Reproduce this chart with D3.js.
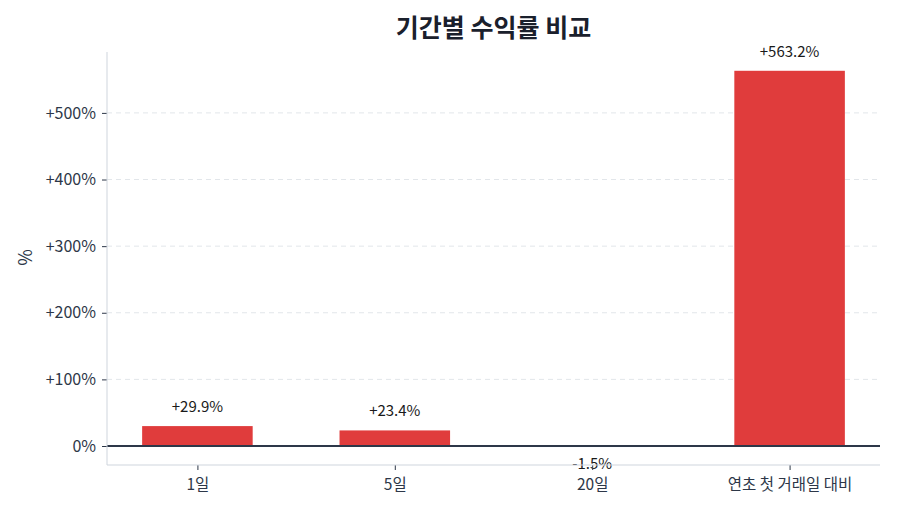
<!DOCTYPE html>
<html>
<head>
<meta charset="utf-8">
<script src="https://cdn.jsdelivr.net/npm/d3@7"></script>
<style>
  body { margin: 0; background: #fff; }
  text { font-family: "Noto Sans CJK KR", "Noto Sans", sans-serif; }
</style>
</head>
<body>
<script>
const categories = ["1일", "5일", "20일", "연초 첫 거래일 대비"];
const returns = [29.9, 23.4, -1.5, 563.2];
const yTicks = [0, 100, 200, 300, 400, 500];

const W = 900, H = 514;
const mLeft = 107, mRight = 880, mTop = 52, mBottom = 465;

const svg = d3.select("body").append("svg")
    .attr("width", W)
    .attr("height", H);

const x = d3.scaleLinear([-0.458, categories.length - 1 + 0.458], [mLeft, mRight]);
const y = d3.scaleLinear([-28.5, 591.4], [mBottom, mTop]);
const barW = 0.56;

// grid
svg.append("g")
    .selectAll("line")
    .data(yTicks.filter(t => t !== 0))
    .enter()
    .append("line")
    .attr("x1", mLeft)
    .attr("x2", mRight)
    .attr("y1", d => y(d))
    .attr("y2", d => y(d))
    .attr("stroke", "#e2e6ea")
    .attr("stroke-dasharray", "5,4")
    .attr("stroke-width", 1);

// bars
svg.append("g")
    .selectAll("rect")
    .data(returns)
    .enter()
    .append("rect")
    .attr("x", (d, i) => x(i - barW / 2))
    .attr("width", (d, i) => x(i + barW / 2) - x(i - barW / 2))
    .attr("y", d => y(Math.max(0, d)))
    .attr("height", d => Math.abs(y(d) - y(0)))
    .attr("fill", d => d >= 0 ? "#e03c3c" : "#3b6fd6");

// zero line
svg.append("line")
    .attr("x1", mLeft)
    .attr("x2", mRight)
    .attr("y1", y(0))
    .attr("y2", y(0))
    .attr("stroke", "#2d3748")
    .attr("stroke-width", 2.2);

// value labels
svg.append("g")
    .selectAll("text")
    .data(returns)
    .enter()
    .append("text")
    .attr("x", (d, i) => x(i))
    .attr("y", d => d >= 0 ? y(d) - 14 : y(d) + 22)
    .attr("text-anchor", "middle")
    .attr("font-size", 15)
    .attr("fill", "#1a1a1a")
    .text(d => (d >= 0 ? "+" : "") + d.toFixed(1) + "%");

// axes
let yAxis = d3.axisLeft(y)
    .tickValues(yTicks)
    .tickSize(5)
    .tickFormat(d => d === 0 ? "0%" : "+" + d + "%");
svg.append("g")
    .attr("transform", `translate(${mLeft}, 0)`)
    .call(yAxis)
    .call(g => g.select(".domain").remove())
    .selectAll("text")
    .attr("font-size", 16)
    .attr("fill", "#2d3748")
    .attr("dx", -3);

let xAxis = d3.axisBottom(x)
    .tickValues(d3.range(categories.length))
    .tickSize(5)
    .tickFormat(i => categories[i]);
svg.append("g")
    .attr("transform", `translate(0, ${mBottom})`)
    .call(xAxis)
    .call(g => g.select(".domain").remove())
    .selectAll("text")
    .attr("font-size", 15.5)
    .attr("fill", "#2d3748")
    .attr("dy", "1.1em");

svg.selectAll(".tick line").attr("stroke", "#2d3748");
svg.selectAll(".tick text").style("font-family", "'Noto Sans CJK KR', sans-serif");

// spines
svg.append("line")
    .attr("x1", mLeft).attr("x2", mLeft)
    .attr("y1", mTop).attr("y2", mBottom)
    .attr("stroke", "#cfd5dd");
svg.append("line")
    .attr("x1", mLeft).attr("x2", mRight)
    .attr("y1", mBottom).attr("y2", mBottom)
    .attr("stroke", "#cfd5dd");

// titles
svg.append("text")
    .attr("x", (mLeft + mRight) / 2)
    .attr("y", 37)
    .attr("text-anchor", "middle")
    .attr("font-size", 25)
    .attr("font-weight", "bold")
    .attr("fill", "#1a202c")
    .text("기간별 수익률 비교");

svg.append("text")
    .attr("transform", `translate(32, ${(mTop + mBottom) / 2 - 1}) rotate(-90)`)
    .attr("text-anchor", "middle")
    .attr("font-size", 18)
    .attr("fill", "#2d3748")
    .text("%");
</script>
</body>
</html>
